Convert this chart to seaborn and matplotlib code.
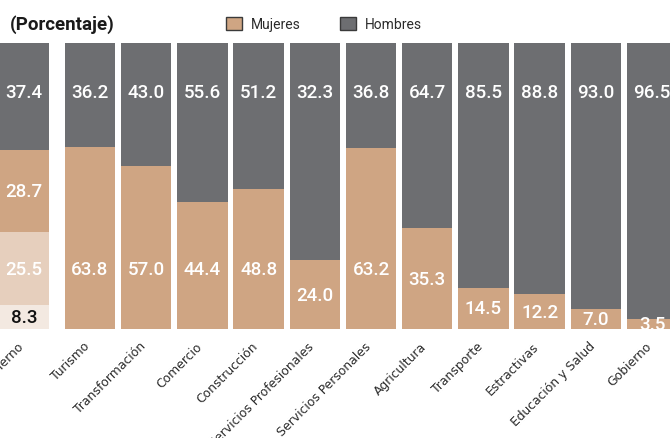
import numpy as np
import pandas as pd
import matplotlib
matplotlib.use("Agg")
import matplotlib.pyplot as plt
import matplotlib.transforms as mtransforms
from matplotlib.patches import Patch
import seaborn as sns

# Resumen (barra izquierda): cuatro tramos de abajo hacia arriba
resumen_etiqueta = "Gobierno"
resumen_valores = [8.3, 25.5, 28.7, 37.4]

# Participación por sector
sectores = ["Turismo", "Transformación", "Comercio", "Construcción",
            "Servicios Profesionales", "Servicios Personales", "Agricultura",
            "Transporte", "Estractivas", "Educación y Salud", "Gobierno"]
mujeres = [63.8, 57.0, 44.4, 48.8, 24.0, 63.2, 35.3, 14.5, 12.2, 7.0, 3.5]
hombres = [36.2, 43.0, 55.6, 51.2, 32.3, 36.8, 64.7, 85.5, 88.8, 93.0, 96.5]

GRIS = "#6d6e71"
TAN = "#cfa583"
CLARO = "#e6cfbd"
MUY_CLARO = "#f3e9e1"
TEXTO = "#2b2b2b"

sns.set_theme(style="white")
plt.rcParams["font.family"] = ["DejaVu Sans"]

fig = plt.figure(figsize=(6.7, 4.39), dpi=100)
ax = fig.add_axes([0.0, 1 - 330 / 439, 1.0, (330 - 44) / 439])

n = len(sectores)
pos_sect = np.arange(n, dtype=float)
pos_res = -1.175

df = pd.DataFrame({"pos": pos_sect, "sector": sectores,
                   "mujeres": mujeres, "hombres": hombres})
df["total"] = 100.0

cum = np.cumsum(resumen_valores)

kw = dict(native_scale=True, width=0.9, saturation=1, ax=ax,
          linewidth=0, errorbar=None)

# capa gris (100 %)
capa_gris = pd.concat([pd.DataFrame({"pos": [pos_res], "v": [cum[3]]}),
                       df[["pos"]].assign(v=df["total"])])
sns.barplot(data=capa_gris, x="pos", y="v", color=GRIS, **kw)
# capa mujeres
capa_tan = pd.concat([pd.DataFrame({"pos": [pos_res], "v": [cum[2]]}),
                      df[["pos"]].assign(v=df["mujeres"])])
sns.barplot(data=capa_tan, x="pos", y="v", color=TAN, **kw)
# tramos claros del resumen
sns.barplot(x=[pos_res], y=[cum[1]], color=CLARO, **kw)
sns.barplot(x=[pos_res], y=[cum[0]], color=MUY_CLARO, **kw)

unit_px = 56.2
ax.set_xlim(-90 / unit_px, (670 - 90) / unit_px)
ax.set_ylim(0, 100)
ax.set_yticks([])
for s in ax.spines.values():
    s.set_visible(False)
ax.set_xlabel("")
ax.set_ylabel("")

valor_font = dict(family=["Roboto", "DejaVu Sans"], fontsize=13.5,
                  fontweight="medium", ha="center", va="center", clip_on=True)

# etiquetas de la barra resumen
bases = np.concatenate([[0], cum[:-1]])
for i, (b, v) in enumerate(zip(bases, resumen_valores)):
    y = 83 if i == 3 else b + v / 2
    col = "#111111" if i == 0 else "white"
    ax.text(pos_res, y, f"{v:.1f}", color=col, **valor_font)

# etiquetas por sector
for p, m, h in zip(pos_sect, mujeres, hombres):
    ax.text(p, 83, f"{h:.1f}", color="white", **valor_font)
    ax.text(p, min(21, m / 2), f"{m:.1f}", color="white", **valor_font)

# eje x
ax.set_xticks([pos_res] + list(pos_sect))
ax.set_xticklabels([resumen_etiqueta] + sectores, rotation=45, ha="right",
                   va="top", rotation_mode="anchor", fontsize=8.9,
                   color=TEXTO)
ax.tick_params(axis="x", length=0, pad=8)
desplazo = mtransforms.ScaledTranslation(-7 / 100, 1 / 100, fig.dpi_scale_trans)
for lbl in ax.get_xticklabels():
    lbl.set_transform(lbl.get_transform() + desplazo)

# título y leyenda
fig.text(10 / 670, 1 - 25 / 439, "(Porcentaje)", fontsize=13.5,
         fontweight="bold", family=["Roboto", "DejaVu Sans"],
         color="#1a1a1a", ha="left", va="center")

handles = [Patch(facecolor=TAN, edgecolor="#3a3a3a", linewidth=1.0, label="Mujeres"),
           Patch(facecolor=GRIS, edgecolor="#3a3a3a", linewidth=1.0, label="Hombres")]
fig.legend(handles=handles, ncol=2, frameon=False, loc="center left",
           bbox_to_anchor=(226 / 670, 1 - 25 / 439),
           prop={"family": ["Roboto", "DejaVu Sans"], "size": 10},
           handlelength=1.15, handleheight=1.15, handletextpad=0.65,
           columnspacing=2.8, labelcolor=TEXTO, borderaxespad=0, borderpad=0)

fig.savefig("out.png", dpi=100, facecolor="white")
